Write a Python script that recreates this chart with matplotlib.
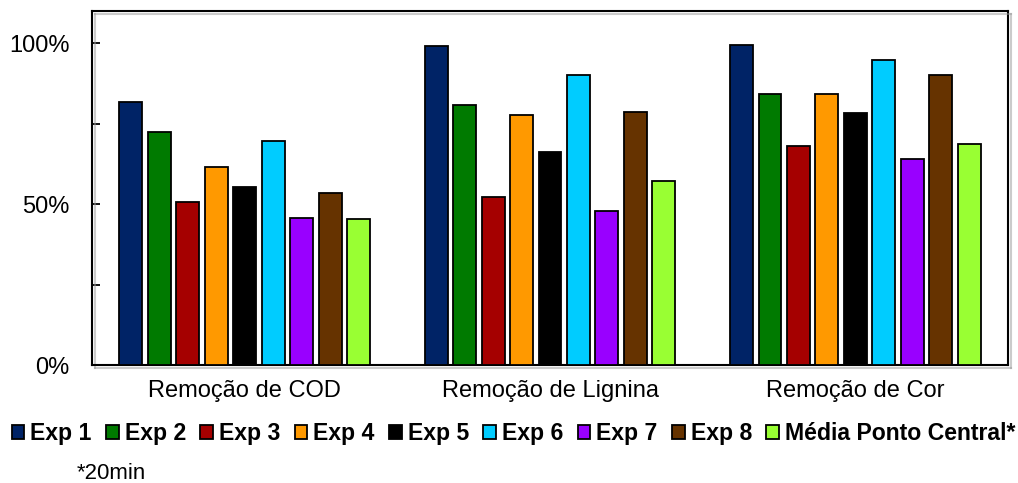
import matplotlib
matplotlib.use("Agg")
import matplotlib.pyplot as plt
import matplotlib.patheffects as pe
import numpy as np

categories = ["Remoção de COD", "Remoção de Lignina", "Remoção de Cor"]
series = ["Exp 1", "Exp 2", "Exp 3", "Exp 4", "Exp 5", "Exp 6", "Exp 7", "Exp 8",
          "Média Ponto Central*"]
exp1 = [0.818, 0.991, 0.994]
exp2 = [0.724, 0.807, 0.841]
exp3 = [0.506, 0.523, 0.682]
exp4 = [0.615, 0.777, 0.841]
exp5 = [0.552, 0.661, 0.782]
exp6 = [0.696, 0.900, 0.949]
exp7 = [0.456, 0.478, 0.641]
exp8 = [0.533, 0.786, 0.901]
media = [0.453, 0.572, 0.687]
values = [exp1, exp2, exp3, exp4, exp5, exp6, exp7, exp8, media]
colors = ["#002366", "#007A00", "#A50000", "#FF9900", "#000000", "#00CCFF",
          "#9900FF", "#663300", "#99FF33"]
footnote = "*20min"

plt.rcParams['font.family'] = ['Liberation Sans', 'DejaVu Sans']

fig = plt.figure(figsize=(10.18, 4.83), dpi=100)
ax = fig.add_axes([0.0904, 0.2443, 0.8998, 0.7329])

x = np.arange(len(categories))
pitch = 0.0932
width = 0.075
n = len(series)
for i, (name, vals, c) in enumerate(zip(series, values, colors)):
    off = (i - (n - 1) / 2) * pitch
    ax.bar(x + off, vals, width=width, color=c, edgecolor="black",
           linewidth=1.3, label=name, zorder=3)

ax.set_xlim(-0.5, 2.5)
ax.set_ylim(0, 1.1)
ax.set_xticks(x)
ax.set_xticklabels(categories, fontsize=17)
ax.tick_params(axis='x', length=0, pad=11)
ax.set_yticks([0, 0.25, 0.5, 0.75, 1.0])
ax.set_yticklabels(["0%", "", "50%", "", "100%"], fontsize=17)
ax.tick_params(axis='y', direction='in', length=6, width=1.3, pad=16)
for s in ax.spines.values():
    s.set_linewidth(1.5)
    s.set_path_effects([pe.SimpleLineShadow(offset=(2, -2), shadow_color='#999999', alpha=0.5), pe.Normal()])

leg = fig.legend(loc='center', bbox_to_anchor=(0.5045, 0.102), ncol=9, frameon=False,
                 prop={'weight': 'bold', 'size': 16.6}, handlelength=0.55,
                 handleheight=0.55, handletextpad=0.26, columnspacing=0.62,
                 borderpad=0, borderaxespad=0)

fig.text(0.075, 0.019, footnote, fontsize=16, ha='left', va='center')

fig.savefig("out.png", dpi=100)
